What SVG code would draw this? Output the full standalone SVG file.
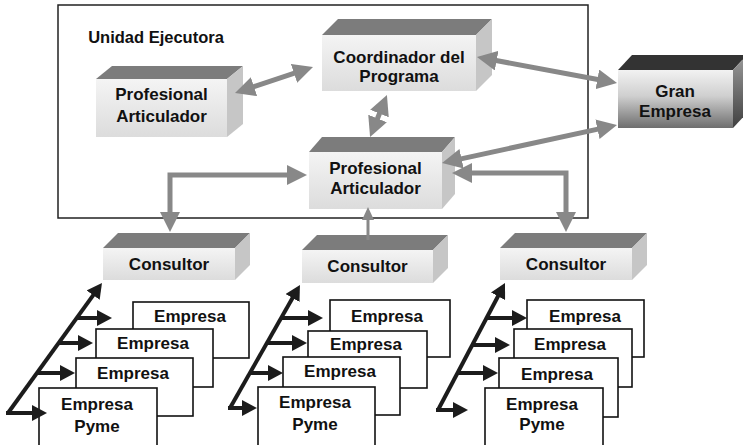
<svg xmlns="http://www.w3.org/2000/svg" width="743" height="445" viewBox="0 0 743 445">
<style>
text{font-family:"Liberation Sans",Arial,sans-serif;font-weight:bold;fill:#111;text-anchor:middle;font-size:17px}
.top{fill:#7c7c7c}
.side{fill:#c6c6c6}
.front{fill:url(#fg)}
.emp{fill:#fff;stroke:#111;stroke-width:1.6}
.gray{fill:none;stroke:#888;stroke-width:5;marker-start:url(#ga);marker-end:url(#ga)}
.blk{fill:none;stroke:#1c1c1c;stroke-width:4;marker-end:url(#ba)}
</style>
<defs>
<linearGradient id="fg" x1="0" y1="0" x2="0" y2="1"><stop offset="0" stop-color="#f4f4f4"/><stop offset="1" stop-color="#dcdcdc"/></linearGradient>
<linearGradient id="gg" x1="0" y1="0" x2="0" y2="1"><stop offset="0" stop-color="#f2f2f2"/><stop offset="0.45" stop-color="#cfcfcf"/><stop offset="1" stop-color="#6e6e6e"/></linearGradient>
<linearGradient id="gs" x1="0" y1="0" x2="0" y2="1"><stop offset="0" stop-color="#9a9a9a"/><stop offset="1" stop-color="#404040"/></linearGradient>
<marker id="ga" viewBox="0 0 20 20" markerWidth="20" markerHeight="20" refX="10" refY="10" markerUnits="userSpaceOnUse" orient="auto-start-reverse"><path d="M0,0 L20,10 L0,20 z" fill="#888"/></marker>
<marker id="gs1" viewBox="0 0 13 12" markerWidth="13" markerHeight="12" refX="5" refY="6" markerUnits="userSpaceOnUse" orient="auto"><path d="M0,0 L13,6 L0,12 z" fill="#888"/></marker>
<marker id="ba" viewBox="0 0 15 16" markerWidth="15" markerHeight="16" refX="6" refY="8" markerUnits="userSpaceOnUse" orient="auto"><path d="M0,0 L15,8 L0,16 z" fill="#1c1c1c"/></marker>
</defs>
<rect width="743" height="445" fill="#fff"/>

<g id="unidad-ejecutora">
<rect x="58" y="5" width="530" height="213" fill="none" stroke="#222" stroke-width="1.5"/>
<text x="156" y="43" style="font-size:16.5px">Unidad Ejecutora</text>
</g>

<g id="profesional-izq">
<polygon class="top" points="96,79 112,66 243,66 227,79"/>
<polygon class="side" points="227,79 243,66 243,124 227,137"/>
<rect class="front" x="96" y="79" width="131" height="58"/>
<text x="161.5" y="100">Profesional</text>
<text x="161.5" y="122">Articulador</text>
</g>

<g id="coordinador">
<polygon class="top" points="322,35 338,19 492,19 476,35"/>
<polygon class="side" points="476,35 492,19 492,75 476,91"/>
<rect class="front" x="322" y="35" width="154" height="56"/>
<text x="399" y="63">Coordinador del</text>
<text x="399" y="82">Programa</text>
</g>

<g id="profesional-centro">
<polygon class="top" points="309,152 322,137 455,137 442,152"/>
<polygon class="side" points="442,152 455,137 455,194 442,209"/>
<rect class="front" x="309" y="152" width="133" height="57"/>
<text x="375.5" y="174">Profesional</text>
<text x="375.5" y="194">Articulador</text>
</g>

<g id="gran-empresa">
<polygon points="618,70 632,55 747,55 733,70" fill="#333"/>
<polygon points="733,70 747,55 747,113 733,128" fill="url(#gs)"/>
<rect x="618" y="70" width="115" height="58" fill="url(#gg)"/>
<text x="675" y="97">Gran</text>
<text x="675" y="117">Empresa</text>
</g>

<g id="consultor-1">
<polygon class="top" points="103,248 118,233 250,233 235,248"/>
<polygon class="side" points="235,248 250,233 250,265 235,280"/>
<rect class="front" x="103" y="248" width="132" height="32"/>
<text x="169" y="270">Consultor</text>
</g>

<g id="consultor-2">
<polygon class="top" points="302,250 317,235 448,235 433,250"/>
<polygon class="side" points="433,250 448,235 448,268 433,283"/>
<rect class="front" x="302" y="250" width="131" height="33"/>
<text x="367.5" y="272">Consultor</text>
</g>

<g id="consultor-3">
<polygon class="top" points="500,248 515,233 647,233 632,248"/>
<polygon class="side" points="632,248 647,233 647,265 632,280"/>
<rect class="front" x="500" y="248" width="132" height="32"/>
<text x="566" y="270">Consultor</text>
</g>

<g id="empresas-1">
<rect class="emp" x="133" y="302" width="116" height="56"/>
<text x="190" y="322">Empresa</text>
<rect class="emp" x="96" y="329" width="117" height="58"/>
<text x="153" y="349">Empresa</text>
<rect class="emp" x="76" y="358" width="117" height="58"/>
<text x="133" y="379">Empresa</text>
<rect class="emp" x="39" y="388" width="118" height="60"/>
<text x="97" y="410">Empresa</text>
<text x="97" y="432">Pyme</text>
</g>

<g id="empresas-2">
<rect class="emp" x="330" y="300" width="120" height="57"/>
<text x="387" y="322">Empresa</text>
<rect class="emp" x="308" y="331" width="119" height="57"/>
<text x="366" y="350">Empresa</text>
<rect class="emp" x="283" y="357" width="117" height="58"/>
<text x="340" y="377">Empresa</text>
<rect class="emp" x="258" y="387" width="117" height="61"/>
<text x="315" y="408">Empresa</text>
<text x="315" y="430">Pyme</text>
</g>

<g id="empresas-3">
<rect class="emp" x="527" y="300" width="117" height="57"/>
<text x="585" y="322">Empresa</text>
<rect class="emp" x="514" y="329" width="118" height="58"/>
<text x="570" y="350">Empresa</text>
<rect class="emp" x="499" y="358" width="119" height="59"/>
<text x="557" y="380">Empresa</text>
<rect class="emp" x="485" y="388" width="118" height="60"/>
<text x="542" y="410">Empresa</text>
<text x="542" y="430">Pyme</text>
</g>

<g id="connectors">
<path class="gray" d="M244.5,89.8 L303.5,70.2"/>
<path class="gray" d="M486.8,58.8 L607.2,81.2"/>
<path class="gray" d="M373.8,127.7 L383.2,104.3"/>
<path class="gray" d="M451.8,160.9 L607.2,127.1"/>
<path class="gray" d="M462,173 L566,173 L566,222"/>
<path class="gray" d="M170,222 L170,175 L297,175"/>
<path d="M368,240 L368,215" fill="none" stroke="#888" stroke-width="3" marker-end="url(#gs1)"/>

<path class="blk" d="M8,413 L96.7,290.3"/>
<path class="blk" d="M6,413 L38,413"/>
<path class="blk" d="M37,373 L66,373"/>
<path class="blk" d="M58,343 L84,343"/>
<path class="blk" d="M76,318 L103,318"/>

<path class="blk" d="M230,408 L295.5,292.8"/>
<path class="blk" d="M228,408 L248,408"/>
<path class="blk" d="M250,373 L274,373"/>
<path class="blk" d="M267,343 L298,343"/>
<path class="blk" d="M281,318 L314,318"/>

<path class="blk" d="M438,410 L500.8,291"/>
<path class="blk" d="M436,410 L459,410"/>
<path class="blk" d="M457,373 L489,373"/>
<path class="blk" d="M472,345 L501,345"/>
<path class="blk" d="M486,318 L518,318"/>
</g>
</svg>
